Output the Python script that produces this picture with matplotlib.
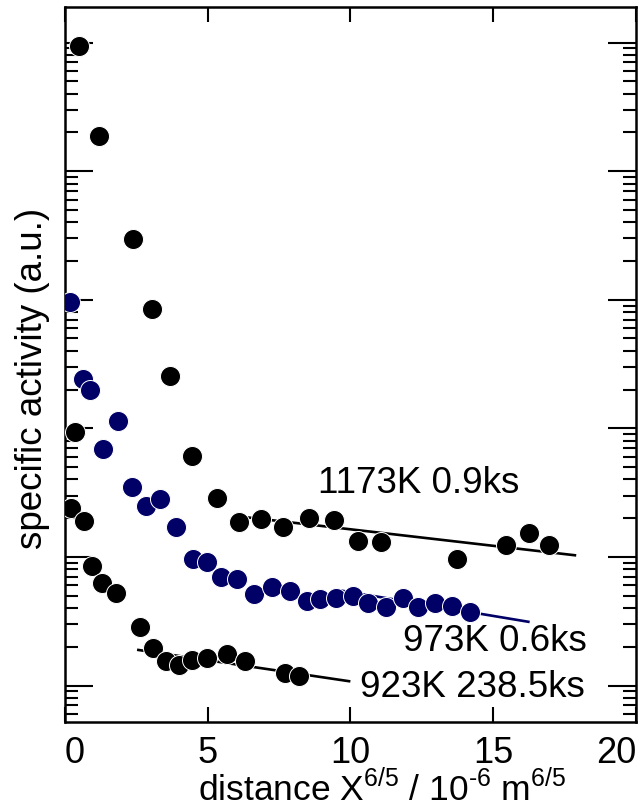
import numpy as np
import matplotlib
matplotlib.use("Agg")
import matplotlib.pyplot as plt
from matplotlib.ticker import LogLocator, NullFormatter, FixedLocator

plt.rcParams['font.family'] = ['Liberation Sans', 'DejaVu Sans']
plt.rcParams['mathtext.fontset'] = 'custom'
plt.rcParams['mathtext.rm'] = 'Liberation Sans'

# 1173 K, 0.9 ks
x_1173 = [0.49, 1.18, 2.37, 3.05, 3.67, 4.45, 5.31, 6.09, 6.87, 7.65, 8.54,
          9.42, 10.27, 11.07, 13.72, 15.45, 16.25, 16.95]
y_1173 = [94400, 18850, 2980, 842, 256, 61.2, 28.5, 18.8, 19.8, 17.0, 19.96,
          19.4, 13.3, 13.1, 9.58, 12.3, 15.4, 12.3]
fit_x_1173 = [6.30, 17.86]
fit_y_1173 = [20.4, 10.3]

# 973 K, 0.6 ks
x_973 = [0.16, 0.64, 0.88, 1.34, 1.85, 2.34, 2.83, 3.33, 3.88, 4.47, 4.96,
         5.45, 6.04, 6.63, 7.26, 7.88, 8.49, 8.93, 9.50, 10.10, 10.61, 11.25,
         11.84, 12.37, 12.96, 13.57, 14.20]
y_973 = [960, 242, 199, 69.0, 115, 35.2, 24.9, 28.0, 17.2, 9.63, 9.08,
         6.94, 6.71, 5.13, 5.87, 5.43, 4.54, 4.71, 4.83, 5.01, 4.42, 4.10,
         4.82, 4.10, 4.36, 4.17, 3.71]
fit_x_973 = [9.63, 16.23]
fit_y_973 = [5.49, 3.13]

# 923 K, 238.5 ks
x_923 = [0.21, 0.35, 0.68, 0.96, 1.29, 1.78, 2.64, 3.07, 3.53, 3.99, 4.44,
         4.96, 5.66, 6.29, 7.71, 8.21]
y_923 = [23.9, 94.1, 19.1, 8.5, 6.23, 5.21, 2.87, 1.95, 1.56, 1.44, 1.58,
         1.63, 1.76, 1.55, 1.26, 1.19]
fit_x_923 = [2.57, 9.95]
fit_y_923 = [1.89, 1.08]

labels = ['1173K 0.9ks', '973K 0.6ks', '923K 238.5ks']
label_pos = [(8.86, 31.2), (11.84, 1.865), (10.33, 0.818)]

navy = '#000066'

fig = plt.figure(figsize=(6.39, 8.08), dpi=100)
ax = fig.add_axes([0.1017, 0.1064, 0.8936, 0.8849])

# fitted lines first, points on top
ax.plot(fit_x_1173, fit_y_1173, color='black', lw=1.9, zorder=2)
ax.plot(fit_x_973, fit_y_973, color=navy, lw=1.9, zorder=2)
ax.plot(fit_x_923, fit_y_923, color='black', lw=1.9, zorder=2)

ms = 14.4 ** 2
ax.scatter(x_1173, y_1173, s=ms, c='black', edgecolors='white', linewidths=0.7, zorder=3)
ax.scatter(x_973, y_973, s=ms, c=navy, edgecolors='white', linewidths=0.7, zorder=3)
ax.scatter(x_923, y_923, s=ms, c='black', edgecolors='white', linewidths=0.7, zorder=3)

for txt, (tx, ty) in zip(labels, label_pos):
    ax.text(tx, ty, txt, fontsize=26.5, ha='left', va='baseline', zorder=4)

ax.set_yscale('log')
ax.set_xlim(0, 20)
ax.set_ylim(10 ** -0.284, 10 ** 5.276)

ax.xaxis.set_major_locator(FixedLocator([0, 5, 10, 15, 20]))
ax.set_xticklabels(['0', '5', '10', '15', '20'])
xt = ax.get_xticklabels()
xt[0].set_horizontalalignment('left')
xt[-1].set_horizontalalignment('right')

ax.yaxis.set_major_locator(LogLocator(base=10, numticks=100))
ax.yaxis.set_minor_locator(LogLocator(base=10, subs=np.arange(2, 10), numticks=100))
ax.yaxis.set_major_formatter(NullFormatter())
ax.yaxis.set_minor_formatter(NullFormatter())

ax.tick_params(axis='x', which='major', direction='in', top=True, length=11,
               width=1.5, labelsize=26, pad=10)
ax.tick_params(axis='y', which='major', direction='in', right=True, length=20, width=1.5)
ax.tick_params(axis='y', which='minor', direction='in', right=True, length=9.5, width=1.5)
for sp in ax.spines.values():
    sp.set_linewidth(1.8)

ax.set_xlabel(r'distance X$^{\mathregular{6/5}}$ / 10$^{\text{-}\mathregular{6}}$ m$^{\mathregular{6/5}}$',
              fontsize=25.5, va='top')
ax.xaxis.set_label_coords(0.555, -0.066)
ax.set_ylabel('specific activity (a.u.)', fontsize=26.5)
ax.yaxis.set_label_coords(-0.026, 0.48)

fig.savefig('out.png', dpi=100)
